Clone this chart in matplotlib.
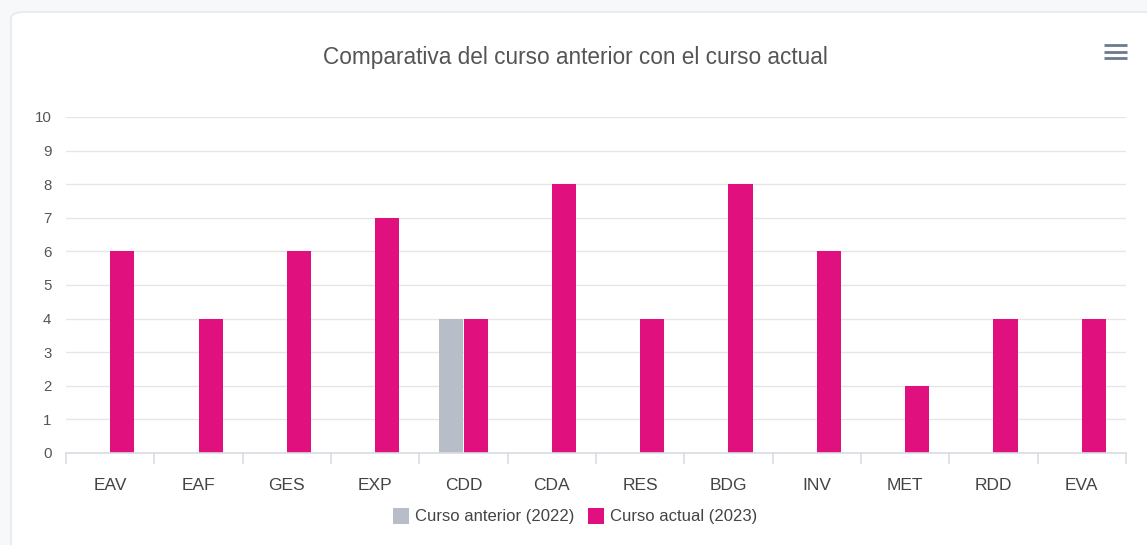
import matplotlib.pyplot as plt
from matplotlib.patches import FancyBboxPatch
from matplotlib.lines import Line2D
import numpy as np

plt.rcParams['font.family'] = ['Liberation Sans', 'DejaVu Sans']

# data
categories = ["EAV", "EAF", "GES", "EXP", "CDD", "CDA", "RES", "BDG", "INV", "MET", "RDD", "EVA"]
prev_2022 = [0, 0, 0, 0, 4, 0, 0, 0, 0, 0, 0, 0]
curr_2023 = [6, 4, 6, 7, 4, 8, 4, 8, 6, 2, 4, 4]
y_ticks = list(range(0, 11))

W, H = 1147, 545
fig = plt.figure(figsize=(W / 100, H / 100), dpi=100)
fig.patch.set_facecolor("#f7f8fa")

# card behind the chart
card = FancyBboxPatch((11 / W, -0.1), 1.2, (H - 12) / H + 0.1,
                      boxstyle="round,pad=0,rounding_size=0.012",
                      transform=fig.transFigure, facecolor="white",
                      edgecolor="#e8e9ec", linewidth=1.2, zorder=-5)
fig.patches.append(card)

ax = fig.add_axes([66 / W, (H - 453) / H, 1060 / W, 336 / H])
ax.set_facecolor("none")
ax.set_zorder(2)

x = np.arange(len(categories))
bw = 0.272
ax.bar(x - bw / 2, prev_2022, bw, color="#b7bec8", zorder=3, label="Curso anterior (2022)")
ax.bar(x + bw / 2, curr_2023, bw, color="#e0107f", zorder=3, label="Curso actual (2023)")

ax.set_xlim(-0.5, len(categories) - 0.5)
ax.set_ylim(0, 10)
ax.set_yticks(y_ticks)
ax.set_yticklabels([str(t) for t in y_ticks], fontsize=10.8, color="#555555")
ax.grid(axis="y", color="#e6e6e6", linewidth=1, zorder=0)
ax.set_xticks(x)
ax.set_xticklabels(categories, fontsize=12.5, color="#444444")
ax.tick_params(axis="x", length=0, pad=18)
ax.tick_params(axis="y", length=0, pad=10.5)
for s in ["top", "right", "left"]:
    ax.spines[s].set_visible(False)
ax.spines["bottom"].set_color("#d8dce2")
ax.spines["bottom"].set_linewidth(1.2)
ax.spines["bottom"].set_zorder(4)

# category boundary ticks below the axis
for b in np.arange(-0.5, len(categories), 1.0):
    ax.plot([b, b], [0, -0.3], color="#d8dce2", lw=1.2, clip_on=False, zorder=4)

fig.text(575 / W, 1 - 57.5 / H, "Comparativa del curso anterior con el curso actual",
         ha="center", va="center", fontsize=16.3, color="#555555")

# hamburger menu icon
for yy in [45, 51.5, 58]:
    fig.add_artist(Line2D([1104 / W, 1127 / W], [1 - yy / H, 1 - yy / H],
                          color="#6b7a8c", lw=2, solid_capstyle="butt"))

leg = fig.legend(loc="center", bbox_to_anchor=(575 / W, 1 - 516 / H), ncol=2,
                 frameon=False, fontsize=12, handlelength=1.0, handleheight=1.1,
                 handletextpad=0.35, columnspacing=0.8)
for t in leg.get_texts():
    t.set_color("#444444")

fig.savefig("out.png", dpi=100, facecolor=fig.get_facecolor())
